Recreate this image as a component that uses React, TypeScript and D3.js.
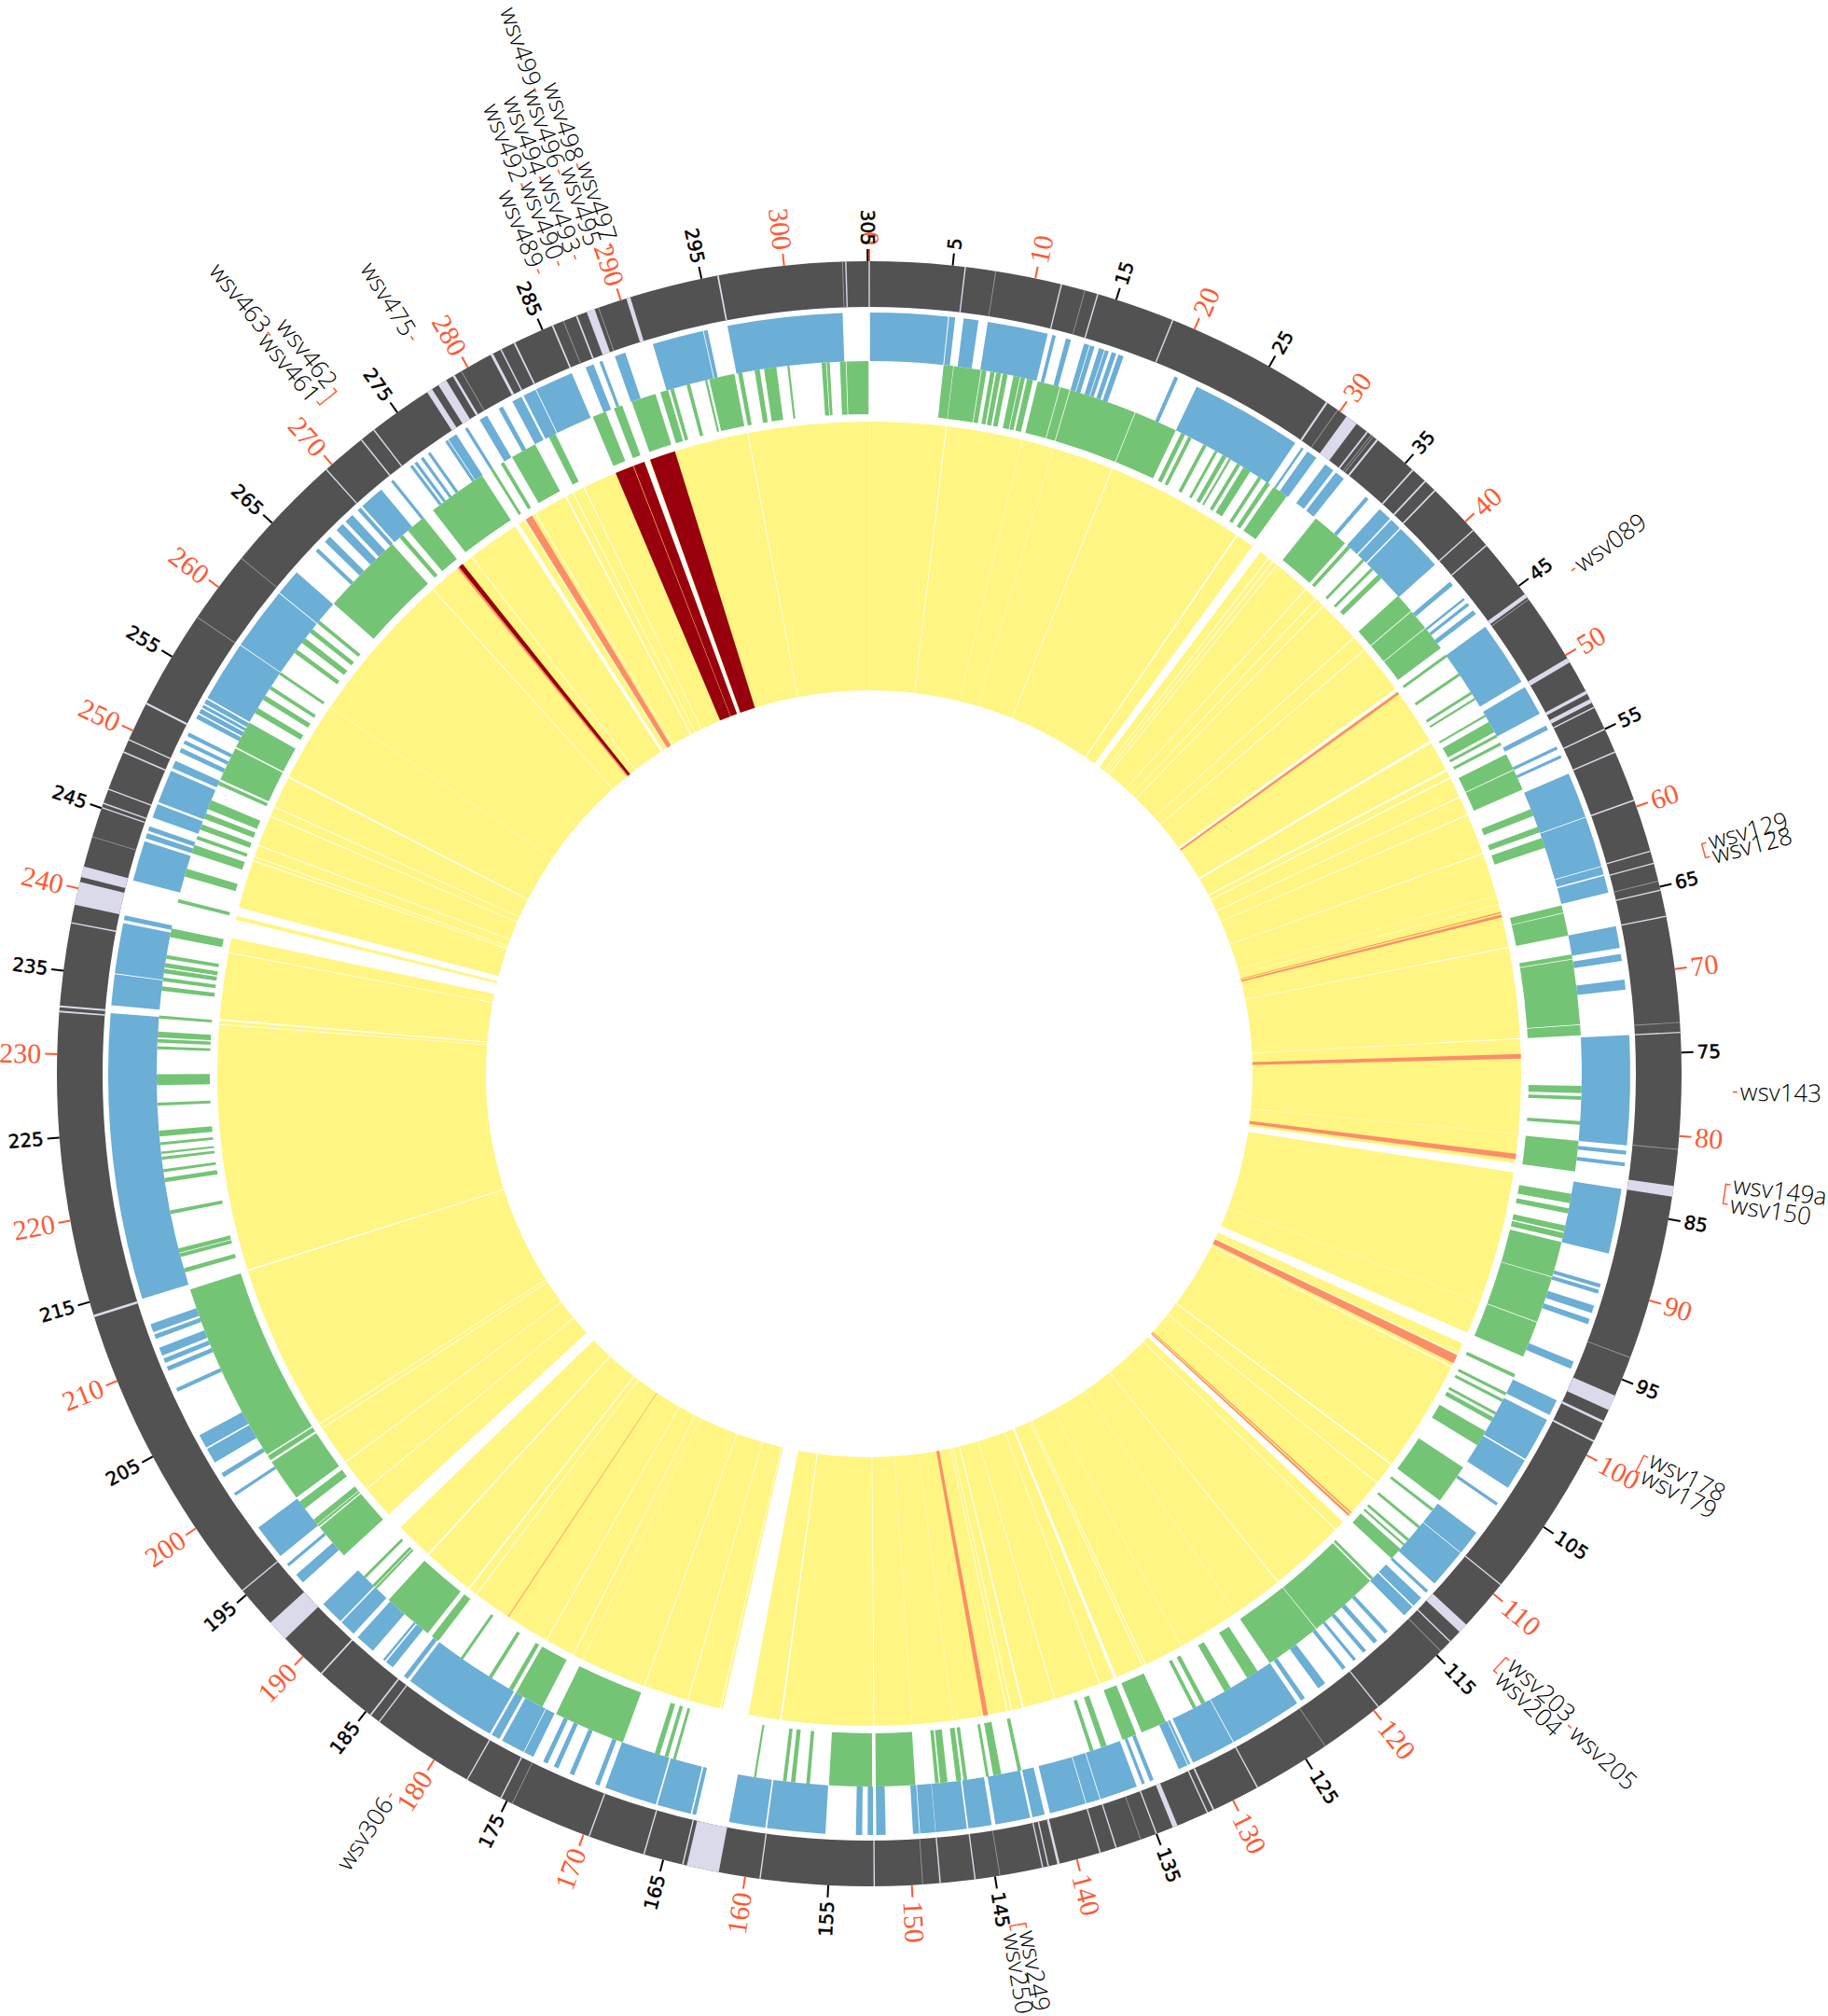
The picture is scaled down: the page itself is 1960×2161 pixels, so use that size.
import React from "react";
import * as d3 from "d3";

const GENOME_KB = 305.1;
const WIDTH = 1960;
const HEIGHT = 2161;
const CX = 932;
const CY = 1151;

const blueGenes = [[0.05,5.05],[5.11,5.5],[6.04,7],[7.6,11.5],[11.8,12.03],[12.7,13.03],[13.9,14.25],[14.3,14.6],[14.9,15.25],[15.3,15.55],[15.75,16.05],[16.2,16.55],[20.05,20.3],[21.6,28.85],[29.35,29.5],[29.8,30.5],[31.2,31.85],[32.05,32.7],[34.5,34.75],[35.7,36.6],[36.7,37.45],[37.55,40.7],[42.15,42.45],[43.5,43.65],[43.9,44.1],[44.5,44.8],[45.8,50],[50.4,52.35],[53.2,53.5],[54.7,54.9],[55.3,55.5],[56.6,59.55],[59.6,62.85],[62.9,63.4],[63.5,64.6],[66.8,68.2],[68.6,69.05],[70.25,70.9],[73.8,80.85],[81.2,81.45],[81.95,82.2],[83.65,87.85],[89.85,90.1],[90.25,90.5],[91.3,91.8],[92.2,92.55],[95.1,95.6],[97.8,98.85],[99.2,102.05],[102.15,104.2],[105.35,105.55],[107.7,109.3],[109.35,111.9],[112.5,112.7],[113.15,113.85],[113.95,114.7],[116.15,116.4],[117.05,117.35],[118,118.25],[118.85,119.05],[119.7,119.95],[121.35,121.9],[122.95,123.25],[123.55,128.3],[128.35,131.2],[131.4,131.55],[131.6,132.2],[133.95,134.2],[134.55,134.75],[135.1,137.55],[137.6,138.5],[138.55,140.9],[141.25,142.05],[142.2,144.45],[144.7,146.2],[146.3,148.3],[148.32,149.3],[149.35,149.75],[151.5,152.1],[152.3,152.65],[153,153.4],[155.35,159.1],[159.2,161.55],[163.7,163.95],[164.05,166.25],[166.35,169.75],[170.15,170.45],[171.9,172.2],[173,173.3],[173.75,174.05],[174.75,175.4],[175.45,177],[177.2,177.75],[177.9,184],[184.2,184.5],[185.4,185.95],[186.05,186.2],[187.05,188.35],[188.7,189.75],[189.85,191.4],[193.3,193.95],[194.65,194.85],[195.5,197.8],[200.3,200.5],[201.7,202],[202.8,203.8],[203.9,204.8],[207.9,208.15],[209.35,209.65],[209.9,210.2],[210.4,210.95],[211.55,211.85],[212,212.55],[214.25,232.7],[233.2,235.2],[235.25,238.5],[238.7,239],[241.3,243.9],[244.1,244.45],[244.6,244.9],[245.5,246.4],[246.55,248.7],[248.9,249.4],[250,250.3],[250.6,250.85],[251.15,251.4],[252.4,252.7],[252.8,253.1],[253.2,253.4],[253.5,253.8],[253.9,257.85],[257.9,262],[262.05,263.75],[265.55,265.8],[266.4,266.85],[267.45,268],[268.25,268.85],[269.3,269.55],[269.7,271.3],[272.1,272.3],[273.65,273.85],[274,274.2],[274.5,274.7],[275.05,275.25],[276.4,276.6],[276.65,277.25],[277.9,278.1],[279,279.55],[280.4,280.7],[281.4,282.05],[282.2,283.05],[283.1,285.6],[286.55,287.1],[287.5,287.7],[288.55,289.25],[291.1,294.4],[294.45,294.7],[296,303.4]];

const greenGenes = [[5.08,5.75],[5.78,7.65],[7.7,8.03],[8.3,8.6],[8.7,9.03],[9.17,9.5],[9.9,10.35],[10.4,10.7],[10.85,11.27],[11.6,13.15],[13.2,13.85],[13.9,18.55],[18.6,21.6],[22,22.3],[22.55,22.8],[23.7,23.95],[24.6,24.8],[25.2,25.5],[25.7,25.85],[26.35,26.6],[26.85,27.4],[28.05,28.3],[28.7,29],[29.3,30.4],[32.9,35.5],[35.75,36],[37.1,37.3],[37.95,38.15],[38.6,38.95],[40.6,41.95],[42,43.45],[43.5,45.2],[45.75,45.95],[47.3,47.5],[48.8,49],[49.3,49.45],[50.65,50.8],[51.2,52],[52.2,52.4],[52.8,53],[53.7,54.85],[54.9,56.35],[57.8,58.3],[59.1,59.5],[59.9,60.6],[64.7,65.2],[65.25,66.8],[68.1,68.4],[68.45,72.9],[72.95,73.65],[77.1,77.6],[77.8,78.05],[79.5,79.75],[80.85,82.95],[84.5,85.15],[85.5,85.85],[86.7,87.1],[87.2,87.6],[87.85,90.3],[90.35,93.55],[93.6,96.1],[97.4,97.65],[98.8,99],[99.3,99.5],[100.3,100.5],[100.7,101],[101.8,102.9],[104.7,107.45],[108.15,108.35],[109.65,109.85],[110.8,111],[111.25,111.4],[111.7,112.6],[114.4,114.6],[114.7,119.6],[119.65,123.55],[124.55,125.4],[126.7,127.2],[128.7,129],[129.4,129.65],[131.7,133.5],[133.9,134.9],[136.05,136.45],[137,137.25],[142.1,142.35],[143.5,144.05],[144.35,144.55],[145.85,146.1],[146.25,146.6],[147.2,147.7],[147.8,148.05],[149.4,152.1],[152.35,155.3],[156.6,156.85],[157.6,157.9],[158.2,158.45],[160.3,160.45],[165.9,166.1],[166.45,166.7],[167.05,167.4],[169.7,174.65],[175.7,177.75],[178,178.3],[179.65,179.9],[182,182.2],[184.1,184.65],[185,188.5],[189.6,189.75],[189.8,190],[190.65,190.85],[192.8,195.3],[195.4,195.55],[195.6,196],[196.95,197.55],[197.9,200.85],[201,201.35],[201.45,213.9],[215.1,215.4],[216.2,216.45],[216.5,216.8],[219.2,219.45],[221.4,221.7],[222.1,222.3],[222.95,223.15],[223.35,223.5],[223.95,224.15],[224.55,224.95],[226.65,226.85],[228.05,228.8],[230.5,230.7],[230.95,231.2],[231.3,231.7],[232.6,232.8],[234.5,234.8],[235.15,235.4],[235.7,236],[236.1,236.4],[236.7,236.95],[238.2,238.8],[240.6,240.85],[242.45,243],[244.1,244.7],[245.1,245.35],[245.8,246.2],[246.6,247],[247.3,247.95],[249.1,249.35],[249.5,251.85],[251.95,253.85],[254.6,255],[255.65,256],[256.5,256.75],[257.7,257.9],[259.5,259.8],[260.35,260.75],[261.25,261.55],[262.05,262.3],[263.8,269.5],[270.15,270.45],[270.9,272.3],[273.1,277.2],[277.9,278.1],[278.7,278.95],[279.6,281.4],[282.45,282.95],[285.75,286.7],[287.3,287.9],[288.6,290.3],[290.65,291.2],[291.35,291.6],[292.5,292.75],[293.8,293.95],[294.1,295.85],[296.1,296.4],[297.25,297.6],[297.9,298.75],[299.5,299.65],[301.85,302.15],[302.2,302.4],[303.1,303.5],[303.55,305.05]];

const yellowGaps = [[30.5,31.25],[45.6,45.85],[50.25,50.45],[52.7,52.85],[53.35,53.45],[82.95,83.65],[96.1,97],[98.85,98.95],[112.45,113.05],[133.65,133.9],[161.6,163.55],[191.5,192.8],[239,240.4],[240.7,241.35],[277.2,277.55],[288,288.4]];
const yellowWide = [29.1,107.45,141,159.15,184.65,188.6,213.95,232.85,251.75,281.6];
const yellowHair = [5.76,18.55,32,32.4,32.8,35.6,36.65,37.4,40.7,41.9,55,56.45,59.55,66.8,73.65,97.85,109.2,113.85,119.65,131.3,131.55,135,138.55,141.85,142.2,152.2,163.75,166.25,169.65,175.45,177.7,183.95,195.3,197.85,200.9,201.3,232.5,237.9,245,245.3,246.2,248.55,249.3,269.5,273.25,278.05,279,282.2,283.1,296];
const yellowFaint = [0.02,11.5,13.9,62.85,63.5,80.75,93.65,123.55,128.3,146.3,149.35,174.65,257.8];
const salmonCells = [[45.9,46.1],[64.1,64.18],[64.3,64.5],[74.8,75.15],[82.25,82.65],[97.95,98.6],[112.1,112.2],[112.3,112.45],[143.65,144],[181.02,181.08],[271.9,272.05],[278.15,278.7]];
const darkRedCells = [[272.05,272.4],[285.7,287.1],[287.14,288],[288.45,290.4]];

const ringLavender = [[29,29.12],[30.5,31.25],[32,32.1],[32.75,32.87],[35.55,35.65],[36.55,36.65],[37.35,37.45],[45.6,45.85],[50.2,50.5],[52.45,52.65],[53,53.25],[83,83.65],[96.05,97],[97.7,97.85],[99,99.12],[112.45,113.05],[131.25,131.35],[133.65,133.95],[141.05,141.2],[161.6,163.55],[184.6,184.7],[188.45,188.55],[191.5,192.8],[214.05,214.2],[232.8,232.92],[232.5,232.6],[239,240.4],[240.7,241.35],[245,245.07],[245.27,245.35],[248.55,248.65],[251.75,251.87],[277.15,277.5],[277.95,278.5],[278.95,279.1],[281.55,281.72],[283.1,283.2],[285.6,285.7],[287.15,287.25],[287.85,288.35],[290.35,290.6],[295.95,296.05]];
const ringThin = [0,5.76,11.6,13.85,18.6,40.7,41.9,53.55,55,56.5,59.6,62.8,63.55,65.2,66.8,73.8,109.3,113.85,119.65,128.35,131.7,135,137.55,138.55,141.75,142.1,146.2,148.3,152.25,159.1,163.8,166.2,169.65,175.4,177.7,184,195.35,237.9,246.2,249.4,269.55,272.3,273.25,282.25,303.7];
const ringFaint = [7.6,13.05,29.85,32.35,32.5,46,64.65,73.2,80.8,93.6,114.65,123.6,136,144.7,149.35,174.65,243.2,257.8,262.2,279.55,286.35,288.6,303.5];

const labelNames = ["wsv089","wsv129","wsv128","wsv143","wsv149a","wsv150","wsv178","wsv179","wsv203","wsv204","wsv205","wsv249","wsv250","wsv306","wsv461","wsv462","wsv463","wsv475","wsv489","wsv490","wsv493","wsv495","wsv497","wsv492","wsv494","wsv496","wsv498","wsv499"];
const labelKb = [46.1,63.2,64,77.3,82.5,83.6,98.5,99.5,112.3,113.3,112.7,143.7,144.6,181,271.7,272.9,272,278.1,286.1,287.3,288.3,289.5,290.4,287,288,289,290,289.2];
const labelLinkKb = [46.1,63.6,63.6,77.3,83,83,99,99,112.8,112.8,112.7,144.2,144.2,181,272.3,272.3,272,278.1,286.1,287.3,288.3,289.5,290.1,287,288,289,290,289.2];
const labelRadius = [932,932,932,932,932,932,932,932,932,932,1030,932,932,932,934,934,1025,932,934,934,934,934,934,1026,1026,1026,1026,1117];

const tickValues = d3.range(0, 306, 5);

const GREEN = "#74c476";
const BLUE = "#6baed6";
const RING = "#525252";
const LAVENDER = "#dadaeb";
const YELLOW = "#fff583";
const SALMON = "#fc8d6a";
const DARK_RED = "#99000d";
const TICK_RED = "#fc5a35";

const angle = d3.scaleLinear().domain([0, GENOME_KB]).range([0, 2 * Math.PI]);

function arcPath(inner: number, outer: number, s: number, e: number) {
  return d3.arc()({ innerRadius: inner, outerRadius: outer, startAngle: angle(s), endAngle: angle(e) }) as string;
}

function yellowCells() {
  const breaks = [
    ...yellowGaps,
    ...yellowWide.map((k) => [k - 0.06, k + 0.06]),
    ...yellowHair.map((k) => [k - 0.035, k + 0.035]),
    ...yellowFaint.map((k) => [k - 0.012, k + 0.012]),
  ].sort((a, b) => a[0] - b[0]);
  const cells: number[][] = [];
  let cursor = 0;
  for (const [s, e] of breaks) {
    if (s > cursor) cells.push([cursor, s]);
    cursor = Math.max(cursor, e);
  }
  cells.push([cursor, GENOME_KB]);
  return cells;
}

function polar(kb: number, r: number) {
  const a = angle(kb);
  return [r * Math.sin(a), -r * Math.cos(a)];
}

function radialText(kb: number, r: number) {
  const deg = (kb / GENOME_KB) * 360;
  const [x, y] = polar(kb, r);
  const left = deg > 180;
  return {
    transform: `translate(${x},${y}) rotate(${left ? deg + 90 : deg - 90})`,
    anchor: left ? "end" : "start",
  };
}

const linkLine = d3.line();

export default function App() {
  return (
    <svg width={WIDTH} height={HEIGHT} style={{ position: "absolute", left: 0, top: 0, background: "#fff" }}>
      <g transform={`translate(${CX},${CY})`}>
        <path d={arcPath(822, 871, 0, GENOME_KB)} fill={RING} />
        {ringLavender.map(([s, e], i) => <path key={i} d={arcPath(822, 871, s, e)} fill={LAVENDER} />)}
        {ringThin.map((k, i) => <path key={i} d={arcPath(822, 871, k - 0.04, k + 0.04)} fill={LAVENDER} />)}
        {ringFaint.map((k, i) => <path key={i} d={arcPath(822, 871, k - 0.025, k + 0.025)} fill="#9a9a9a" />)}

        {blueGenes.map(([s, e], i) => <path key={i} d={arcPath(764, 816, s, e)} fill={BLUE} />)}
        {greenGenes.map(([s, e], i) => <path key={i} d={arcPath(707, 764, s, e)} fill={GREEN} />)}

        {yellowCells().map(([s, e], i) => <path key={i} d={arcPath(411, 699, s, e)} fill={YELLOW} />)}
        {salmonCells.map(([s, e], i) => <path key={i} d={arcPath(411, 699, s, e)} fill={SALMON} />)}
        {darkRedCells.map(([s, e], i) => <path key={i} d={arcPath(411, 699, s, e)} fill={DARK_RED} />)}

        {tickValues.map((t) => {
          const red = t % 10 === 0;
          const [x1, y1] = polar(t, 871);
          const [x2, y2] = polar(t, 884);
          const { transform, anchor } = radialText(t === 0 ? 0.001 : t, 888);
          return (
            <g key={t}>
              <line x1={x1} y1={y1} x2={x2} y2={y2} stroke={red ? TICK_RED : "#000"} strokeWidth={2} />
              <text
                transform={transform}
                textAnchor={anchor}
                dy="0.34em"
                fontFamily={red ? "'Liberation Serif', serif" : "'DejaVu Sans', sans-serif"}
                fontWeight={400}
                fontSize={red ? 30 : 20}
                fill={red ? TICK_RED : "#000"}
                stroke={red ? "none" : "#000"}
                strokeWidth={red ? 0 : 0.5}
              >
                {t}
              </text>
            </g>
          );
        })}

        {labelNames.map((name, i) => {
          const kb = labelKb[i];
          const r = labelRadius[i];
          const link = linkLine([polar(kb, r - 1), polar(kb, r - 6), polar(labelLinkKb[i], r - 6)] as [number, number][]) as string;
          const { transform, anchor } = radialText(kb, r + 2);
          return (
            <g key={name}>
              <path d={link} fill="none" stroke={TICK_RED} strokeWidth={1.5} />
              <text
                transform={transform}
                textAnchor={anchor}
                dy="0.34em"
                fontFamily="'Open Sans', sans-serif"
                fontWeight={300}
                fontSize={26}
                fill="#000"
              >
                {name}
              </text>
            </g>
          );
        })}
      </g>
    </svg>
  );
}
